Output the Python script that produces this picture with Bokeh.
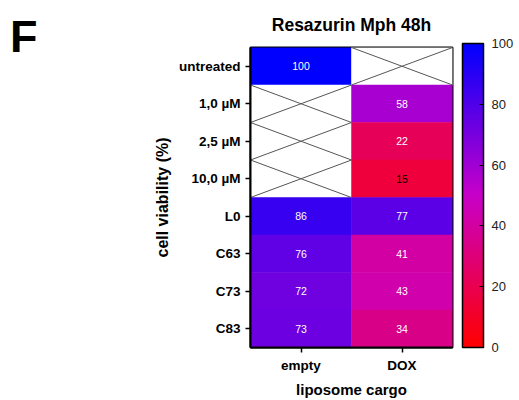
import math
from bokeh.plotting import figure
from bokeh.layouts import row
from bokeh.models import (Range1d, FixedTicker, LinearColorMapper, ColorBar,
                          ColumnDataSource, Div)
from bokeh.core.properties import value
from bokeh.embed import file_html
from bokeh.resources import INLINE

# Data: cell viability (%) after 48 h, Resazurin assay on Mph
treatments = ["untreated", "1,0 µM", "2,5 µM", "10,0 µM", "L0", "C63", "C73", "C83"]
cargo = ["empty", "DOX"]
viability_empty = [100, None, None, None, 86, 76, 72, 73]
viability_dox = [None, 58, 22, 15, 77, 41, 43, 34]
colorbar_ticks = [0, 20, 40, 60, 80, 100]

FONT = "Liberation Sans"
LETTER_W = 60     # strip holding the panel letter
H = 400

# red -> magenta -> blue palette
anchors = [(0.0, (255, 0, 0)), (0.5, (200, 0, 200)), (1.0, (0, 0, 255))]
palette = []
n = 256
for i in range(n):
    t = i / (n - 1)
    for (t0, c0), (t1, c1) in zip(anchors[:-1], anchors[1:]):
        if t0 <= t <= t1:
            f = (t - t0) / (t1 - t0)
            rgb = [round(a + (b - a) * f) for a, b in zip(c0, c1)]
            palette.append("#%02x%02x%02x" % tuple(rgb))
            break
mapper = LinearColorMapper(palette=palette, low=0, high=100, nan_color="white")

# Build the cell table
cx, cy, vals = [], [], []
for ci, col in enumerate([viability_empty, viability_dox]):
    for ri, v in enumerate(col):
        cx.append(ci + 0.5)
        cy.append(ri + 0.5)
        vals.append(float("nan") if v is None else float(v))

cells = ColumnDataSource(dict(cx=cx, cy=cy, v=vals))

lx, ly, ltxt, lcol = [], [], [], []
sx0, sy0, sx1, sy1 = [], [], [], []
for x, y, v in zip(cx, cy, vals):
    if math.isnan(v):
        sx0 += [x - 0.5, x - 0.5]
        sy0 += [y - 0.5, y + 0.5]
        sx1 += [x + 0.5, x + 0.5]
        sy1 += [y + 0.5, y - 0.5]
    else:
        lx.append(x)
        ly.append(y)
        ltxt.append("%d" % v)
        lcol.append("black" if v < 20 else "white")
labels = ColumnDataSource(dict(x=lx, y=ly, text=ltxt, color=lcol))
crosses = ColumnDataSource(dict(x0=sx0, y0=sy0, x1=sx1, y1=sy1))

p = figure(width=519 - LETTER_W, height=H, output_backend="svg", toolbar_location=None,
           x_range=Range1d(0, 2), y_range=Range1d(8, 0),
           min_border_left=250 - LETTER_W, min_border_right=67, min_border_top=46,
           min_border_bottom=50, title="Resazurin Mph 48h")
p.background_fill_color = "white"
p.border_fill_color = "white"
p.xgrid.visible = False
p.ygrid.visible = False
p.outline_line_color = "black"
p.outline_line_width = 2

p.title.align = "center"
p.title.text_font = FONT
p.title.text_font_size = "17.5px"
p.title.text_font_style = "bold"
p.title.text_color = "black"
p.title.standoff = 25

p.rect(x="cx", y="cy", width=1, height=1, source=cells,
       fill_color={"field": "v", "transform": mapper},
       line_color={"field": "v", "transform": mapper}, line_width=0.5)
p.segment(x0="x0", y0="y0", x1="x1", y1="y1", source=crosses,
          line_color="#555555", line_width=1)
p.text(x="x", y="y", text="text", text_color="color", source=labels,
       text_align="center", text_baseline="middle",
       text_font=value(FONT), text_font_size="10.5px")

for ax in (p.xaxis[0], p.yaxis[0]):
    ax.axis_line_color = "black"
    ax.axis_line_width = 2
    ax.major_tick_line_color = "black"
    ax.major_tick_line_width = 1.5
    ax.major_tick_out = 5
    ax.major_tick_in = 0
    ax.minor_tick_line_color = None
    ax.major_label_text_font = FONT
    ax.major_label_text_font_size = "13.5px"
    ax.major_label_text_font_style = "bold"
    ax.major_label_text_color = "black"
    ax.axis_label_text_font = FONT
    ax.axis_label_text_font_style = "bold"
    ax.axis_label_text_color = "black"

p.yaxis.ticker = FixedTicker(ticks=[i + 0.5 for i in range(len(treatments))])
p.yaxis.major_label_overrides = {i + 0.5: t for i, t in enumerate(treatments)}
p.yaxis.axis_label = "cell viability (%)"
p.yaxis.axis_label_text_font_size = "16px"
p.xaxis.ticker = FixedTicker(ticks=[i + 0.5 for i in range(len(cargo))])
p.xaxis.major_label_overrides = {i + 0.5: c for i, c in enumerate(cargo)}
p.xaxis.axis_label = "liposome cargo"
p.xaxis.axis_label_text_font_size = "15px"

cb = ColorBar(color_mapper=mapper, ticker=FixedTicker(ticks=colorbar_ticks),
              width=21, height=304, location=(10, 0), padding=0, margin=0,
              bar_line_color="black", bar_line_width=1.5,
              border_line_color=None, background_fill_color=None,
              major_tick_line_color="black", major_tick_in=4, major_tick_out=0,
              major_label_text_font=FONT, major_label_text_font_size="13px",
              major_label_text_color="#222222", label_standoff=8)
p.add_layout(cb, "right")

# Panel letter in a narrow strip to the left of the chart
letter = Div(text="F", width=LETTER_W, height=H, margin=0,
             styles={"font-family": FONT, "font-size": "45px", "font-weight": "bold",
                     "line-height": "45px", "color": "black",
                     "padding-left": "10px", "padding-top": "13.6px",
                     "box-sizing": "border-box"})

layout = row(letter, p, spacing=0)
open("out.html", "w").write(file_html(layout, INLINE))
